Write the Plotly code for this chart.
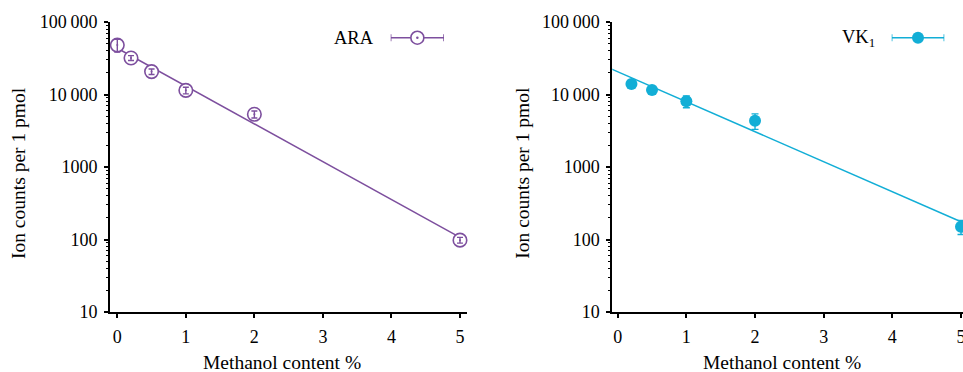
import plotly.graph_objects as go

W, H = 963, 372

# ---------------- data ----------------
ara_x = [0, 0.2, 0.5, 1, 2, 5]
ara_y = [48000, 31900, 20700, 11400, 5330, 98]
ara_err = [9500, 2500, 1800, 1200, 600, 9]
ara_fit_x = [0, 5]
ara_fit_y = [43400, 107]

vk_x = [0.2, 0.5, 1, 2, 5]
vk_y = [13960, 11530, 8050, 4350, 150]
vk_err = [600, 500, 1500, 1050, 33]
vk_fit_x = [-0.1, 5.1]
vk_fit_y = [22700, 160]

ytick_vals = [10, 100, 1000, 10000, 100000]
ytick_text = ["10", "100", "1000", "10\u2009000", "100\u2009000"]
xtick_vals = [0, 1, 2, 3, 4, 5]
xtick_text = ["0", "1", "2", "3", "4", "5"]

PURPLE = "#7d4f9e"
CYAN = "#12aed6"
FONT = "'Liberation Serif', 'Times New Roman', Times, serif"

minor_vals = [m * 10 ** d for d in range(1, 5) for m in range(2, 10)]


def px(x):
    return x / W


def py(y):
    return (H - y) / H


fig = go.Figure()

# ---------- left panel (ARA) ----------
fig.add_trace(go.Scatter(x=ara_fit_x, y=ara_fit_y, mode="lines",
                         line=dict(color=PURPLE, width=1.5),
                         xaxis="x", yaxis="y", showlegend=False))
fig.add_trace(go.Scatter(x=ara_x, y=ara_y, mode="markers",
                         marker=dict(symbol="circle", size=13.5, color="white",
                                     line=dict(color=PURPLE, width=1.6)),
                         xaxis="x", yaxis="y", showlegend=False, cliponaxis=False))
fig.add_trace(go.Scatter(x=ara_x, y=ara_y, mode="markers",
                         marker=dict(size=2, color=PURPLE),
                         error_y=dict(type="data", array=ara_err, color=PURPLE,
                                      thickness=1.4, width=3),
                         xaxis="x", yaxis="y", showlegend=False, cliponaxis=False))

# ---------- right panel (VK1) ----------
fig.add_trace(go.Scatter(x=vk_fit_x, y=vk_fit_y, mode="lines",
                         line=dict(color=CYAN, width=1.5),
                         xaxis="x2", yaxis="y2", showlegend=False))
fig.add_trace(go.Scatter(x=vk_x, y=vk_y, mode="markers",
                         marker=dict(symbol="circle", size=12, color=CYAN),
                         error_y=dict(type="data", array=vk_err, color=CYAN,
                                      thickness=1.4, width=3.5),
                         xaxis="x2", yaxis="y2", showlegend=False, cliponaxis=False))

# ---------- legend symbols (own hidden axes) ----------
fig.add_trace(go.Scatter(x=[0.5], y=[0.5], mode="markers",
                         marker=dict(symbol="circle", size=13, color="white",
                                     line=dict(color=PURPLE, width=1.6)),
                         error_x=dict(type="constant", value=0.5, color=PURPLE,
                                      thickness=1.5, width=3.5),
                         xaxis="x3", yaxis="y3", showlegend=False, cliponaxis=False))
fig.add_trace(go.Scatter(x=[0.5], y=[0.5], mode="markers",
                         marker=dict(size=2.5, color=PURPLE),
                         xaxis="x3", yaxis="y3", showlegend=False, cliponaxis=False))
fig.add_trace(go.Scatter(x=[0.5], y=[0.5], mode="markers",
                         marker=dict(symbol="circle", size=12, color=CYAN),
                         error_x=dict(type="constant", value=0.5, color=CYAN,
                                      thickness=1.5, width=3.5),
                         xaxis="x4", yaxis="y4", showlegend=False, cliponaxis=False))

tickfont = dict(family=FONT, size=18, color="black")

xcommon = dict(showline=True, linecolor="black", linewidth=2, showgrid=False,
               zeroline=False, ticks="outside", ticklen=4, tickwidth=1.5,
               tickcolor="black", tickmode="array", tickvals=xtick_vals,
               ticktext=xtick_text, tickfont=tickfont, ticklabelstandoff=3,
               ticklabeloverflow="allow", automargin=False)
ycommon = dict(type="log", range=[1, 5], showline=True, linecolor="black",
               linewidth=2, showgrid=False, zeroline=False, ticks="outside",
               ticklen=4, tickwidth=1.5, tickcolor="black", tickmode="array",
               tickvals=ytick_vals, ticktext=ytick_text, tickfont=tickfont,
               ticklabelstandoff=3, ticklabeloverflow="allow",
               minor=dict(ticks="outside", ticklen=2, tickwidth=1,
                          tickcolor="black", tickmode="array",
                          tickvals=minor_vals, showgrid=False),
               automargin=False)

ydom = [py(312), py(22)]

fig.update_layout(
    width=W, height=H,
    margin=dict(l=0, r=0, t=0, b=0),
    paper_bgcolor="white", plot_bgcolor="rgba(0,0,0,0)",
    showlegend=False,
    font=dict(family=FONT, size=18, color="black"),
    xaxis=dict(domain=[px(110), px(466.7)], range=[-0.1065, 5.098],
               anchor="y", **xcommon),
    yaxis=dict(domain=ydom, anchor="x", **ycommon),
    xaxis2=dict(domain=[px(612.3), 1.0], range=[-0.0786, 5.029],
                anchor="y2", **xcommon),
    yaxis2=dict(domain=ydom, anchor="x2", **ycommon),
    xaxis3=dict(domain=[px(390.7), px(444)], range=[0, 1], visible=False,
                anchor="y3"),
    yaxis3=dict(domain=[py(47.7), py(27.7)], range=[0, 1], visible=False,
                anchor="x3"),
    xaxis4=dict(domain=[px(891.7), px(944.3)], range=[0, 1], visible=False,
                anchor="y4"),
    yaxis4=dict(domain=[py(47.7), py(27.7)], range=[0, 1], visible=False,
                anchor="x4"),
)

titlefont = dict(family=FONT, size=19.5, color="black")
labfont = dict(family=FONT, size=18.5, color="black")
ann = [
    dict(text="Ion counts per 1 pmol", x=px(18), y=py(173), textangle=-90),
    dict(text="Ion counts per 1 pmol", x=px(521.7), y=py(173), textangle=-90),
    dict(text="Methanol content %", x=px(281.7), y=py(362)),
    dict(text="Methanol content %", x=px(781.7), y=py(362)),
]
for a in ann:
    fig.add_annotation(xref="paper", yref="paper", showarrow=False,
                       xanchor="center", yanchor="middle", font=titlefont, **a)

fig.add_annotation(text="ARA", xref="paper", yref="paper", x=px(375.5),
                   y=py(38), xanchor="right", yanchor="middle",
                   showarrow=False, font=labfont)
fig.add_annotation(text="VK<sub>1</sub>", xref="paper", yref="paper",
                   x=px(877), y=py(38), xanchor="right", yanchor="middle",
                   showarrow=False, font=labfont)

fig.write_html("out.html")
